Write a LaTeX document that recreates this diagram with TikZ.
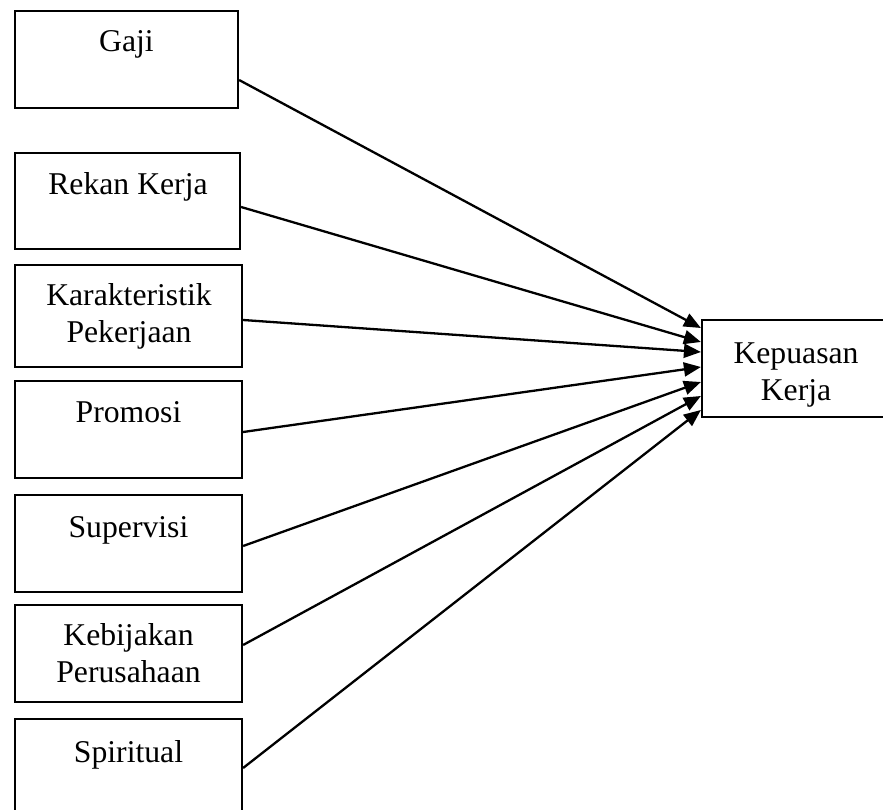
\documentclass[tikz,border=0pt]{standalone}
\usepackage{fontspec}
\setmainfont{Liberation Serif}
\usetikzlibrary{arrows.meta}
\begin{document}
\begin{tikzpicture}[x=1pt,y=-1pt,
  box/.style={draw=black,line width=2.2pt,rectangle,inner sep=0pt,minimum height=97pt},
  lbl/.style={anchor=base,align=center,inner sep=0pt,font=\fontsize{31.7}{37}\selectfont},
  conn/.style={line width=2.3pt,-{Triangle[length=17pt,width=14pt]}}]
\useasboundingbox (0,0) rectangle (883,810);
% boxes
\node[box,minimum width=223pt] (gaji) at (126.5,59.5) {};
\node[box,minimum width=225pt,minimum height=96pt] (rekan) at (127.5,201) {};
\node[box,minimum width=227pt,minimum height=102pt] (karak) at (128.5,316) {};
\node[box,minimum width=227pt] (promosi) at (128.5,429.5) {};
\node[box,minimum width=227pt] (superv) at (128.5,543.5) {};
\node[box,minimum width=227pt] (kebij) at (128.5,653.5) {};
\node[box,minimum width=227pt] (spirit) at (128.5,767.5) {};
\node[box,minimum width=188pt] (kepuasan) at (796,368.5) {};
% labels (base = baseline of last line)
\node[lbl] (tgaji) at (126.5,52) {Gaji};
\node[lbl] (trekan) at (128,195) {Rekan Kerja};
\node[lbl] (tkarak) at (129,342) {Karakteristik\\Pekerjaan};
\node[lbl] (tpromosi) at (128.5,422) {Promosi};
\node[lbl] (tsuperv) at (128.5,537) {Supervisi};
\node[lbl] (tkebij) at (128.5,682) {Kebijakan\\Perusahaan};
\node[lbl] (tspirit) at (128.5,762) {Spiritual};
\node[lbl] (tkep) at (796,400) {Kepuasan\\Kerja};
% connectors
\draw[conn] ([yshift=-20.5pt]gaji.east) -- ([yshift=40.5pt]kepuasan.west);
\draw[conn] ([yshift=-6pt]rekan.east) -- ([yshift=26.5pt]kepuasan.west);
\draw[conn] ([yshift=-4pt]karak.east) -- ([yshift=16.5pt]kepuasan.west);
\draw[conn] ([yshift=-2.5pt]promosi.east) -- ([yshift=1.5pt]kepuasan.west);
\draw[conn] ([yshift=-2.5pt]superv.east) -- ([yshift=-13.5pt]kepuasan.west);
\draw[conn] ([yshift=8.5pt]kebij.east) -- ([yshift=-27.5pt]kepuasan.west);
\draw[conn] ([yshift=-0.5pt]spirit.east) -- ([yshift=-41.5pt]kepuasan.west);
\end{tikzpicture}
\end{document}
